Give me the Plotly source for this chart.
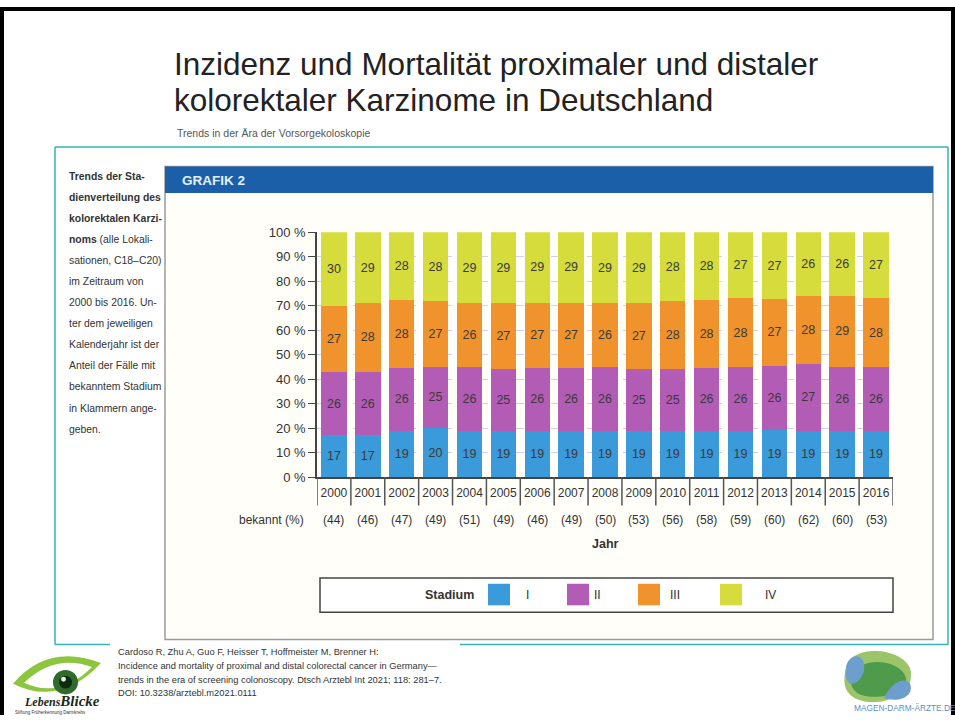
import plotly.graph_objects as go

W, H = 955, 723

# ---------------- data ----------------
years = list(range(2000, 2017))
year_labels = [str(y) for y in years]
stage_I = [17, 17, 19, 20, 19, 19, 19, 19, 19, 19, 19, 19, 19, 19, 19, 19, 19]
stage_II = [26, 26, 26, 25, 26, 25, 26, 26, 26, 25, 25, 26, 26, 26, 27, 26, 26]
stage_III = [27, 28, 28, 27, 26, 27, 27, 27, 26, 27, 28, 28, 28, 27, 28, 29, 28]
stage_IV = [30, 29, 28, 28, 29, 29, 29, 29, 29, 29, 28, 28, 27, 27, 26, 26, 27]
known_pct = [44, 46, 47, 49, 51, 49, 46, 49, 50, 53, 56, 58, 59, 60, 62, 60, 53]
stage_names = ["I", "II", "III", "IV"]
stage_colors = ["#3b9ad9", "#b35cb6", "#f0932c", "#d5dc3b"]
y_ticks = list(range(0, 101, 10))
y_labels = [f"{v} %" for v in y_ticks]

title_lines = ["Inzidenz und Mortalität proximaler und distaler",
               "kolorektaler Karzinome in Deutschland"]
subtitle = "Trends in der Ära der Vorsorgekoloskopie"
side_text = ["<b>Trends der Sta-</b>", "<b>dienverteilung des</b>", "<b>kolorektalen Karzi-</b>",
             "<b>noms</b> (alle Lokali-", "sationen, C18–C20)", "im Zeitraum von",
             "2000 bis 2016. Un-", "ter dem jeweiligen", "Kalenderjahr ist der",
             "Anteil der Fälle mit", "bekanntem Stadium", "in Klammern ange-", "geben."]
citation = ["Cardoso R, Zhu A, Guo F, Heisser T, Hoffmeister M, Brenner H:",
            "Incidence and mortality of proximal and distal colorectal cancer in Germany—",
            "trends in the era of screening colonoscopy. Dtsch Arztebl Int 2021; 118: 281–7.",
            "DOI: 10.3238/arztebl.m2021.0111"]

SANS = "Liberation Sans, Arial, sans-serif"


def px(x):
    return x / W


def py(y):
    return 1 - y / H


fig = go.Figure()
for name, vals, col in zip(stage_names, [stage_I, stage_II, stage_III, stage_IV], stage_colors):
    fig.add_trace(go.Bar(
        x=years, y=vals, name=name,
        marker=dict(color=col, line=dict(width=0)),
        text=[str(v) for v in vals], textposition="inside", insidetextanchor="middle",
        textangle=0, constraintext="none",
        insidetextfont=dict(family=SANS, size=12.5, color="#3a3a3a"),
        hoverinfo="skip", showlegend=False,
    ))

shapes = []
annotations = []


def rect(x0, y0, x1, y1, layer="below", **kw):
    d = dict(type="rect", xref="paper", yref="paper",
             x0=px(x0), x1=px(x1), y0=py(y0), y1=py(y1), layer=layer)
    d.update(kw)
    shapes.append(d)


def seg(x0, y0, x1, y1, color, width):
    shapes.append(dict(type="line", xref="paper", yref="paper",
                       x0=px(x0), x1=px(x1), y0=py(y0), y1=py(y1),
                       line=dict(color=color, width=width), layer="below"))


def text(x, y, s, size, color="#333", family=SANS, xanchor="left", **kw):
    d = dict(x=px(x), y=py(y), xref="paper", yref="paper", text=s, showarrow=False,
             xanchor=xanchor, yanchor="middle", font=dict(family=family, size=size, color=color))
    d.update(kw)
    annotations.append(d)


def pth(points_cmd, **kw):
    s = ""
    for cmd, pts in points_cmd:
        s += cmd + " " + " ".join(f"{px(a):.5f},{py(b):.5f}" for a, b in pts) + " "
    s += "Z"
    d = dict(type="path", xref="paper", yref="paper", path=s, layer="above")
    d.update(kw)
    shapes.append(d)


# slide frame
seg(2, 0, 2, 723, "black", 4)
seg(0, 2, 955, 2, "black", 4)
seg(953, 0, 953, 723, "black", 4)

# title and subtitle
text(172, 58, title_lines[0], 31.5, color="#222")
text(172, 95, title_lines[1], 31.5, color="#222")
text(175, 129, subtitle, 10.5, color="#555")

# teal box
TEAL = "#33b3b5"
seg(55, 143, 948, 143, TEAL, 1.5)
seg(55, 143, 55, 651, TEAL, 1.5)
seg(948, 143, 948, 651, TEAL, 1.5)
seg(55, 651, 110, 651, TEAL, 1.5)
seg(460, 651, 948, 651, TEAL, 1.5)

# side text
for i, s in enumerate(side_text):
    text(67, 173 + i * 21.5, s, 10.4, color="#333")

# panel
rect(165, 163, 933, 646, line=dict(color="#9a9a9a", width=1.5), fillcolor="#fffef9")
rect(165, 163, 933, 190, line=dict(width=0), fillcolor="#1b5fa8")
text(180, 177, "<b>GRAFIK 2</b>", 13.5, color="#e6f0fa")

# category separators under x axis (in data coordinates)
for i in range(len(years) + 1):
    xb = years[0] - 0.5 + i
    shapes.append(dict(type="line", xref="x", yref="paper", x0=xb, x1=xb,
                       y0=py(480), y1=py(509), line=dict(color="#555", width=1.5)))

# known-stage row
text(306, 524, "bekannt (%)", 12, color="#333", xanchor="right")
for yr, v in zip(years, known_pct):
    annotations.append(dict(x=yr, xref="x", y=py(524), yref="paper", text=f"({v})",
                            showarrow=False, xanchor="center", yanchor="middle",
                            font=dict(family=SANS, size=12, color="#333")))
text(605, 548, "<b>Jahr</b>", 12.5, color="#333", xanchor="center")

# legend box
rect(320, 583, 893, 618, layer="above", line=dict(color="#444", width=1.5), fillcolor="white")
text(476, 600, "<b>Stadium</b>", 12.5, color="#333", xanchor="right")
sw_x = [488, 567, 638, 720]
lbl_x = [527, 597, 675, 770]
for sx, lx, col, nm in zip(sw_x, lbl_x, stage_colors, stage_names):
    rect(sx, 589, sx + 22, 611, layer="above", line=dict(width=0), fillcolor=col)
    text(lx, 600, nm, 12, color="#333", xanchor="center")

# citation
for i, s in enumerate(citation):
    text(116, 659 + i * 14, s, 9.3, color="#333")

# left logo (eye)
pth([("M", [(13, 691)]), ("Q", [(48, 649), (101, 670)]), ("Q", [(60, 715), (13, 691)])],
    fillcolor="#8cc63f", line=dict(width=0))
pth([("M", [(24, 690)]), ("Q", [(55, 660), (92, 674)]), ("Q", [(60, 707), (24, 690)])],
    fillcolor="#ffffff", line=dict(width=0))
shapes.append(dict(type="circle", xref="paper", yref="paper", x0=px(53), x1=px(78),
                   y0=py(677), y1=py(702), fillcolor="#2f6b2a", line=dict(width=0)))
shapes.append(dict(type="circle", xref="paper", yref="paper", x0=px(59), x1=px(72),
                   y0=py(683), y1=py(696), fillcolor="#0f2a10", line=dict(width=0)))
shapes.append(dict(type="circle", xref="paper", yref="paper", x0=px(61), x1=px(66),
                   y0=py(684), y1=py(689), fillcolor="#dfeedd", line=dict(width=0)))
text(62, 709, "<b><i>Lebens</i></b><b><i><span style='font-size:15px'>Blicke</span></i></b>", 12,
     color="#1a2a1a", family="Liberation Serif, DejaVu Serif, serif", xanchor="center")
text(50, 720, "Stiftung Früherkennung Darmkrebs", 4.5, color="#333", xanchor="center")

# right logo (blobs)
pth([("M", [(846, 675)]), ("C", [(850, 651), (900, 653), (910, 675)]),
     ("C", [(918, 703), (880, 715), (860, 708)]), ("C", [(845, 703), (842, 691), (846, 675)])],
    fillcolor="#9cc56a", line=dict(width=0))
pth([("M", [(852, 683)]), ("C", [(858, 663), (900, 665), (906, 685)]),
     ("C", [(908, 703), (872, 709), (858, 701)]), ("C", [(850, 695), (850, 689), (852, 683)])],
    fillcolor="#4f9b4c", line=dict(width=0))
pth([("M", [(846, 675)]), ("C", [(848, 661), (862, 659), (864, 671)]),
     ("C", [(866, 683), (856, 693), (850, 691)]), ("C", [(845, 687), (845, 681), (846, 675)])],
    fillcolor="#6d9fce", line=dict(width=0))
pth([("M", [(884, 706)]), ("C", [(890, 691), (904, 683), (910, 691)]),
     ("C", [(914, 701), (904, 711), (884, 706)])],
    fillcolor="#6d9fce", line=dict(width=0))
text(852, 716, "MAGEN-DARM-ÄRZTE.DE", 8.3, color="#5b8fc8")

fig.update_layout(
    width=W, height=H, margin=dict(l=0, r=0, t=0, b=0),
    paper_bgcolor="white", plot_bgcolor="rgba(0,0,0,0)",
    barmode="stack", barnorm="percent", bargap=0.25,
    xaxis=dict(domain=[px(317), px(893)], range=[years[0] - 0.5, years[-1] + 0.5],
               tickvals=years, ticktext=year_labels, showgrid=False, zeroline=False,
               showline=True, linecolor="#444", linewidth=1.5,
               ticks="outside", ticklen=4, tickcolor="rgba(0,0,0,0)",
               tickfont=dict(family=SANS, size=12, color="#333"), fixedrange=True),
    yaxis=dict(domain=[py(480), py(230)], range=[0, 100], tickvals=y_ticks, ticktext=y_labels,
               ticks="outside", ticklen=7, tickcolor="#444", showline=True, linecolor="#444",
               linewidth=1.5, showgrid=True, gridcolor="#cfcff0", griddash="dash", gridwidth=1,
               zeroline=False, tickfont=dict(family=SANS, size=13, color="#333"), fixedrange=True),
    shapes=shapes, annotations=annotations,
    uniformtext=dict(minsize=9, mode="show"),
)

fig.write_html("out.html", config={"displayModeBar": False},
               post_script="document.body.style.margin='0';document.body.style.overflow='hidden';")
